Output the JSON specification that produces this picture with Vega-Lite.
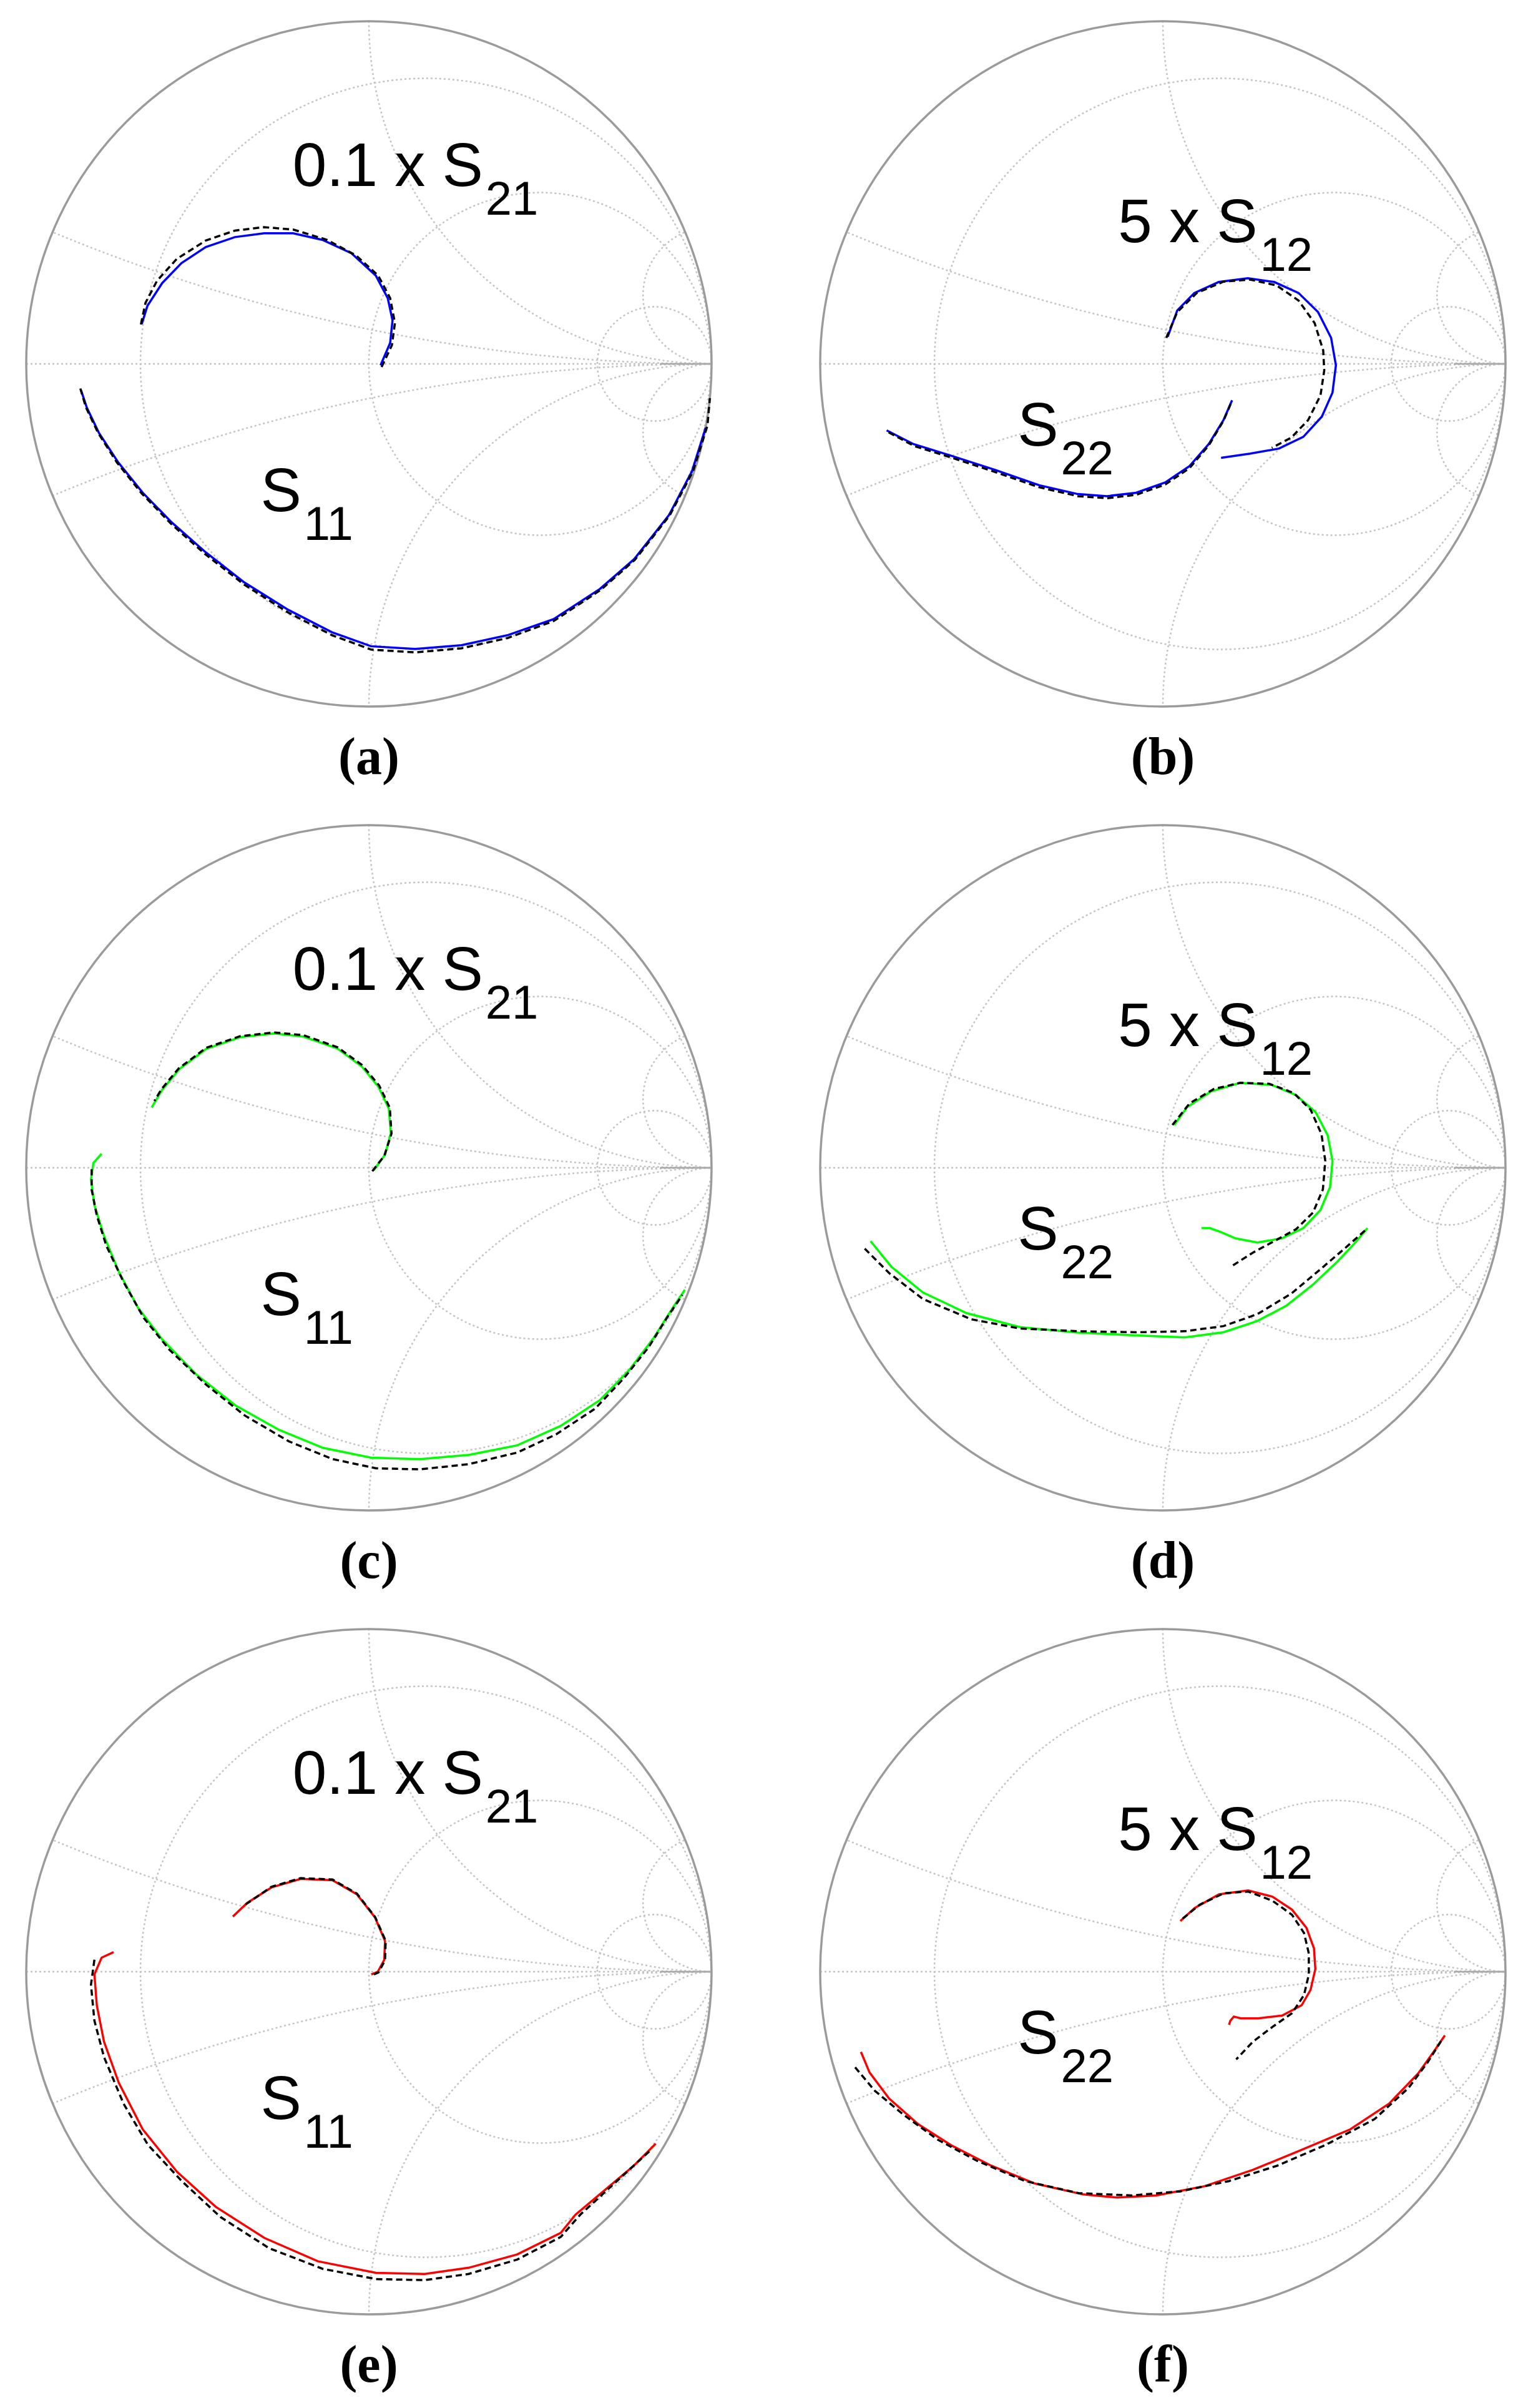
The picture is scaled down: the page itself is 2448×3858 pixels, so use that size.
{
"$schema":"https://vega.github.io/schema/vega-lite/v6.json",
"background":"white",
"padding":{"left":35,"top":27,"right":0,"bottom":0},
"config":{"view":{"stroke":null}},
"datasets":{
"grid":[{"cx":0.16667,"cy":0,"rho":0.83333},{"cx":0.5,"cy":0,"rho":0.5},{"cx":0.83333,"cy":0,"rho":0.16667},{"cx":1,"cy":5,"rho":5},{"cx":1,"cy":-5,"rho":5},{"cx":1,"cy":1,"rho":1},{"cx":1,"cy":-1,"rho":1},{"cx":1,"cy":0.2,"rho":0.2},{"cx":1,"cy":-0.2,"rho":0.2}],
"outer":[{"cx":0,"cy":0,"rho":1}],
"mask":[{"t0":0,"t1":6.2832,"ri":1,"ro":1.6}],
"labels":[
{"p":"a","main":"0.1 x S","sub":"21","gx":0.333,"gy":0.519},{"p":"a","main":"S","sub":"11","gx":-0.197,"gy":-0.43},
{"p":"c","main":"0.1 x S","sub":"21","gx":0.333,"gy":0.519},{"p":"c","main":"S","sub":"11","gx":-0.197,"gy":-0.43},
{"p":"e","main":"0.1 x S","sub":"21","gx":0.333,"gy":0.519},{"p":"e","main":"S","sub":"11","gx":-0.197,"gy":-0.43},
{"p":"b","main":"5 x S","sub":"12","gx":0.276,"gy":0.355},{"p":"b","main":"S","sub":"22","gx":-0.305,"gy":-0.239},
{"p":"d","main":"5 x S","sub":"12","gx":0.276,"gy":0.355},{"p":"d","main":"S","sub":"22","gx":-0.305,"gy":-0.239},
{"p":"f","main":"5 x S","sub":"12","gx":0.276,"gy":0.355},{"p":"f","main":"S","sub":"22","gx":-0.305,"gy":-0.239}],
"curves":[
{"p":"a","s":"21","k":"m","i":1,"gx":0.034,"gy":-0.004},{"p":"a","s":"21","k":"m","i":2,"gx":0.062,"gy":0.061},{"p":"a","s":"21","k":"m","i":3,"gx":0.069,"gy":0.127},{"p":"a","s":"21","k":"m","i":4,"gx":0.055,"gy":0.192},{"p":"a","s":"21","k":"m","i":5,"gx":0.020,"gy":0.258},{"p":"a","s":"21","k":"m","i":6,"gx":-0.051,"gy":0.323},{"p":"a","s":"21","k":"m","i":7,"gx":-0.136,"gy":0.362},{"p":"a","s":"21","k":"m","i":8,"gx":-0.221,"gy":0.381},{"p":"a","s":"21","k":"m","i":9,"gx":-0.306,"gy":0.381},{"p":"a","s":"21","k":"m","i":10,"gx":-0.391,"gy":0.370},{"p":"a","s":"21","k":"m","i":11,"gx":-0.476,"gy":0.341},{"p":"a","s":"21","k":"m","i":12,"gx":-0.547,"gy":0.294},{"p":"a","s":"21","k":"m","i":13,"gx":-0.603,"gy":0.236},{"p":"a","s":"21","k":"m","i":14,"gx":-0.646,"gy":0.170},{"p":"a","s":"21","k":"m","i":15,"gx":-0.663,"gy":0.116},
{"p":"a","s":"21","k":"s","i":1,"gx":0.037,"gy":-0.009},{"p":"a","s":"21","k":"s","i":2,"gx":0.067,"gy":0.054},{"p":"a","s":"21","k":"s","i":3,"gx":0.076,"gy":0.119},{"p":"a","s":"21","k":"s","i":4,"gx":0.062,"gy":0.192},{"p":"a","s":"21","k":"s","i":5,"gx":0.027,"gy":0.258},{"p":"a","s":"21","k":"s","i":6,"gx":-0.037,"gy":0.316},{"p":"a","s":"21","k":"s","i":7,"gx":-0.122,"gy":0.362},{"p":"a","s":"21","k":"s","i":8,"gx":-0.221,"gy":0.392},{"p":"a","s":"21","k":"s","i":9,"gx":-0.306,"gy":0.399},{"p":"a","s":"21","k":"s","i":10,"gx":-0.391,"gy":0.389},{"p":"a","s":"21","k":"s","i":11,"gx":-0.476,"gy":0.360},{"p":"a","s":"21","k":"s","i":12,"gx":-0.561,"gy":0.306},{"p":"a","s":"21","k":"s","i":13,"gx":-0.618,"gy":0.243},{"p":"a","s":"21","k":"s","i":14,"gx":-0.652,"gy":0.178},{"p":"a","s":"21","k":"s","i":15,"gx":-0.666,"gy":0.112},
{"p":"a","s":"11","k":"m","i":1,"gx":-0.840,"gy":-0.077},{"p":"a","s":"11","k":"m","i":2,"gx":-0.823,"gy":-0.128},{"p":"a","s":"11","k":"m","i":3,"gx":-0.788,"gy":-0.201},{"p":"a","s":"11","k":"m","i":4,"gx":-0.731,"gy":-0.288},{"p":"a","s":"11","k":"m","i":5,"gx":-0.660,"gy":-0.376},{"p":"a","s":"11","k":"m","i":6,"gx":-0.575,"gy":-0.463},{"p":"a","s":"11","k":"m","i":7,"gx":-0.476,"gy":-0.550},{"p":"a","s":"11","k":"m","i":8,"gx":-0.363,"gy":-0.638},{"p":"a","s":"11","k":"m","i":9,"gx":-0.235,"gy":-0.718},{"p":"a","s":"11","k":"m","i":10,"gx":-0.108,"gy":-0.783},{"p":"a","s":"11","k":"m","i":11,"gx":0.006,"gy":-0.824},{"p":"a","s":"11","k":"m","i":12,"gx":0.135,"gy":-0.832},{"p":"a","s":"11","k":"m","i":13,"gx":0.270,"gy":-0.821},{"p":"a","s":"11","k":"m","i":14,"gx":0.404,"gy":-0.792},{"p":"a","s":"11","k":"m","i":15,"gx":0.539,"gy":-0.745},{"p":"a","s":"11","k":"m","i":16,"gx":0.674,"gy":-0.657},{"p":"a","s":"11","k":"m","i":17,"gx":0.774,"gy":-0.570},{"p":"a","s":"11","k":"m","i":18,"gx":0.876,"gy":-0.441},{"p":"a","s":"11","k":"m","i":19,"gx":0.943,"gy":-0.313},{"p":"a","s":"11","k":"m","i":20,"gx":0.983,"gy":-0.186},
{"p":"a","s":"11","k":"s","i":1,"gx":-0.842,"gy":-0.072},{"p":"a","s":"11","k":"s","i":2,"gx":-0.826,"gy":-0.126},{"p":"a","s":"11","k":"s","i":3,"gx":-0.791,"gy":-0.200},{"p":"a","s":"11","k":"s","i":4,"gx":-0.735,"gy":-0.288},{"p":"a","s":"11","k":"s","i":5,"gx":-0.663,"gy":-0.378},{"p":"a","s":"11","k":"s","i":6,"gx":-0.578,"gy":-0.466},{"p":"a","s":"11","k":"s","i":7,"gx":-0.478,"gy":-0.555},{"p":"a","s":"11","k":"s","i":8,"gx":-0.364,"gy":-0.644},{"p":"a","s":"11","k":"s","i":9,"gx":-0.235,"gy":-0.726},{"p":"a","s":"11","k":"s","i":10,"gx":-0.107,"gy":-0.792},{"p":"a","s":"11","k":"s","i":11,"gx":0.007,"gy":-0.834},{"p":"a","s":"11","k":"s","i":12,"gx":0.135,"gy":-0.842},{"p":"a","s":"11","k":"s","i":13,"gx":0.270,"gy":-0.830},{"p":"a","s":"11","k":"s","i":14,"gx":0.405,"gy":-0.800},{"p":"a","s":"11","k":"s","i":15,"gx":0.540,"gy":-0.750},{"p":"a","s":"11","k":"s","i":16,"gx":0.676,"gy":-0.660},{"p":"a","s":"11","k":"s","i":17,"gx":0.776,"gy":-0.572},{"p":"a","s":"11","k":"s","i":18,"gx":0.878,"gy":-0.442},{"p":"a","s":"11","k":"s","i":19,"gx":0.946,"gy":-0.313},{"p":"a","s":"11","k":"s","i":20,"gx":0.988,"gy":-0.180},{"p":"a","s":"11","k":"s","i":21,"gx":0.995,"gy":-0.100},

{"p":"b","s":"12","k":"m","i":1,"gx":0.014,"gy":0.079},{"p":"b","s":"12","k":"m","i":2,"gx":0.042,"gy":0.156},{"p":"b","s":"12","k":"m","i":3,"gx":0.092,"gy":0.207},{"p":"b","s":"12","k":"m","i":4,"gx":0.163,"gy":0.239},{"p":"b","s":"12","k":"m","i":5,"gx":0.248,"gy":0.250},{"p":"b","s":"12","k":"m","i":6,"gx":0.325,"gy":0.239},{"p":"b","s":"12","k":"m","i":7,"gx":0.396,"gy":0.207},{"p":"b","s":"12","k":"m","i":8,"gx":0.453,"gy":0.151},{"p":"b","s":"12","k":"m","i":9,"gx":0.491,"gy":0.076},{"p":"b","s":"12","k":"m","i":10,"gx":0.505,"gy":-0.004},{"p":"b","s":"12","k":"m","i":11,"gx":0.495,"gy":-0.084},{"p":"b","s":"12","k":"m","i":12,"gx":0.464,"gy":-0.154},{"p":"b","s":"12","k":"m","i":13,"gx":0.410,"gy":-0.213},{"p":"b","s":"12","k":"m","i":14,"gx":0.339,"gy":-0.247},{"p":"b","s":"12","k":"m","i":15,"gx":0.255,"gy":-0.262},{"p":"b","s":"12","k":"m","i":16,"gx":0.170,"gy":-0.274},
{"p":"b","s":"12","k":"s","i":1,"gx":0.010,"gy":0.076},{"p":"b","s":"12","k":"s","i":2,"gx":0.042,"gy":0.151},{"p":"b","s":"12","k":"s","i":3,"gx":0.099,"gy":0.207},{"p":"b","s":"12","k":"s","i":4,"gx":0.177,"gy":0.240},{"p":"b","s":"12","k":"s","i":5,"gx":0.255,"gy":0.246},{"p":"b","s":"12","k":"s","i":6,"gx":0.332,"gy":0.229},{"p":"b","s":"12","k":"s","i":7,"gx":0.396,"gy":0.185},{"p":"b","s":"12","k":"s","i":8,"gx":0.443,"gy":0.119},{"p":"b","s":"12","k":"s","i":9,"gx":0.468,"gy":0.039},{"p":"b","s":"12","k":"s","i":10,"gx":0.471,"gy":-0.019},{"p":"b","s":"12","k":"s","i":11,"gx":0.460,"gy":-0.092},{"p":"b","s":"12","k":"s","i":12,"gx":0.424,"gy":-0.164},{"p":"b","s":"12","k":"s","i":13,"gx":0.375,"gy":-0.215},{"p":"b","s":"12","k":"s","i":14,"gx":0.318,"gy":-0.245},
{"p":"b","s":"22","k":"m","i":1,"gx":-0.806,"gy":-0.194},{"p":"b","s":"22","k":"m","i":2,"gx":-0.728,"gy":-0.234},{"p":"b","s":"22","k":"m","i":3,"gx":-0.615,"gy":-0.269},{"p":"b","s":"22","k":"m","i":4,"gx":-0.488,"gy":-0.310},{"p":"b","s":"22","k":"m","i":5,"gx":-0.361,"gy":-0.354},{"p":"b","s":"22","k":"m","i":6,"gx":-0.248,"gy":-0.380},{"p":"b","s":"22","k":"m","i":7,"gx":-0.163,"gy":-0.386},{"p":"b","s":"22","k":"m","i":8,"gx":-0.078,"gy":-0.376},{"p":"b","s":"22","k":"m","i":9,"gx":0.007,"gy":-0.346},{"p":"b","s":"22","k":"m","i":10,"gx":0.078,"gy":-0.298},{"p":"b","s":"22","k":"m","i":11,"gx":0.134,"gy":-0.234},{"p":"b","s":"22","k":"m","i":12,"gx":0.177,"gy":-0.164},{"p":"b","s":"22","k":"m","i":13,"gx":0.202,"gy":-0.106},
{"p":"b","s":"22","k":"s","i":1,"gx":-0.800,"gy":-0.200},{"p":"b","s":"22","k":"s","i":2,"gx":-0.725,"gy":-0.240},{"p":"b","s":"22","k":"s","i":3,"gx":-0.615,"gy":-0.274},{"p":"b","s":"22","k":"s","i":4,"gx":-0.488,"gy":-0.316},{"p":"b","s":"22","k":"s","i":5,"gx":-0.361,"gy":-0.360},{"p":"b","s":"22","k":"s","i":6,"gx":-0.248,"gy":-0.386},{"p":"b","s":"22","k":"s","i":7,"gx":-0.163,"gy":-0.392},{"p":"b","s":"22","k":"s","i":8,"gx":-0.078,"gy":-0.382},{"p":"b","s":"22","k":"s","i":9,"gx":0.007,"gy":-0.352},{"p":"b","s":"22","k":"s","i":10,"gx":0.078,"gy":-0.304},{"p":"b","s":"22","k":"s","i":11,"gx":0.134,"gy":-0.238},{"p":"b","s":"22","k":"s","i":12,"gx":0.177,"gy":-0.166},{"p":"b","s":"22","k":"s","i":13,"gx":0.200,"gy":-0.112},

{"p":"c","s":"21","k":"m","i":1,"gx":0.014,"gy":-0.007},{"p":"c","s":"21","k":"m","i":2,"gx":0.047,"gy":0.038},{"p":"c","s":"21","k":"m","i":3,"gx":0.064,"gy":0.101},{"p":"c","s":"21","k":"m","i":4,"gx":0.058,"gy":0.173},{"p":"c","s":"21","k":"m","i":5,"gx":0.028,"gy":0.236},{"p":"c","s":"21","k":"m","i":6,"gx":-0.021,"gy":0.296},{"p":"c","s":"21","k":"m","i":7,"gx":-0.092,"gy":0.348},{"p":"c","s":"21","k":"m","i":8,"gx":-0.191,"gy":0.383},{"p":"c","s":"21","k":"m","i":9,"gx":-0.277,"gy":0.392},{"p":"c","s":"21","k":"m","i":10,"gx":-0.376,"gy":0.381},{"p":"c","s":"21","k":"m","i":11,"gx":-0.475,"gy":0.347},{"p":"c","s":"21","k":"m","i":12,"gx":-0.553,"gy":0.288},{"p":"c","s":"21","k":"m","i":13,"gx":-0.603,"gy":0.228},{"p":"c","s":"21","k":"m","i":14,"gx":-0.634,"gy":0.176},
{"p":"c","s":"21","k":"s","i":1,"gx":0.010,"gy":-0.010},{"p":"c","s":"21","k":"s","i":2,"gx":0.045,"gy":0.035},{"p":"c","s":"21","k":"s","i":3,"gx":0.066,"gy":0.100},{"p":"c","s":"21","k":"s","i":4,"gx":0.061,"gy":0.175},{"p":"c","s":"21","k":"s","i":5,"gx":0.030,"gy":0.240},{"p":"c","s":"21","k":"s","i":6,"gx":-0.020,"gy":0.300},{"p":"c","s":"21","k":"s","i":7,"gx":-0.092,"gy":0.352},{"p":"c","s":"21","k":"s","i":8,"gx":-0.191,"gy":0.387},{"p":"c","s":"21","k":"s","i":9,"gx":-0.277,"gy":0.395},{"p":"c","s":"21","k":"s","i":10,"gx":-0.376,"gy":0.384},{"p":"c","s":"21","k":"s","i":11,"gx":-0.475,"gy":0.350},{"p":"c","s":"21","k":"s","i":12,"gx":-0.555,"gy":0.290},{"p":"c","s":"21","k":"s","i":13,"gx":-0.605,"gy":0.230},{"p":"c","s":"21","k":"s","i":14,"gx":-0.626,"gy":0.195},
{"p":"c","s":"11","k":"m","i":1,"gx":-0.780,"gy":0.041},{"p":"c","s":"11","k":"m","i":2,"gx":-0.804,"gy":0.014},{"p":"c","s":"11","k":"m","i":3,"gx":-0.811,"gy":-0.034},{"p":"c","s":"11","k":"m","i":4,"gx":-0.801,"gy":-0.109},{"p":"c","s":"11","k":"m","i":5,"gx":-0.773,"gy":-0.199},{"p":"c","s":"11","k":"m","i":6,"gx":-0.730,"gy":-0.303},{"p":"c","s":"11","k":"m","i":7,"gx":-0.674,"gy":-0.408},{"p":"c","s":"11","k":"m","i":8,"gx":-0.603,"gy":-0.501},{"p":"c","s":"11","k":"m","i":9,"gx":-0.504,"gy":-0.603},{"p":"c","s":"11","k":"m","i":10,"gx":-0.390,"gy":-0.693},{"p":"c","s":"11","k":"m","i":11,"gx":-0.262,"gy":-0.765},{"p":"c","s":"11","k":"m","i":12,"gx":-0.135,"gy":-0.817},{"p":"c","s":"11","k":"m","i":13,"gx":0.007,"gy":-0.846},{"p":"c","s":"11","k":"m","i":14,"gx":0.149,"gy":-0.850},{"p":"c","s":"11","k":"m","i":15,"gx":0.291,"gy":-0.838},{"p":"c","s":"11","k":"m","i":16,"gx":0.433,"gy":-0.810},{"p":"c","s":"11","k":"m","i":17,"gx":0.560,"gy":-0.753},{"p":"c","s":"11","k":"m","i":18,"gx":0.674,"gy":-0.678},{"p":"c","s":"11","k":"m","i":19,"gx":0.759,"gy":-0.591},{"p":"c","s":"11","k":"m","i":20,"gx":0.830,"gy":-0.498},{"p":"c","s":"11","k":"m","i":21,"gx":0.887,"gy":-0.408},{"p":"c","s":"11","k":"m","i":22,"gx":0.922,"gy":-0.356},
{"p":"c","s":"11","k":"s","i":1,"gx":-0.809,"gy":-0.004},{"p":"c","s":"11","k":"s","i":2,"gx":-0.809,"gy":-0.064},{"p":"c","s":"11","k":"s","i":3,"gx":-0.794,"gy":-0.139},{"p":"c","s":"11","k":"s","i":4,"gx":-0.766,"gy":-0.228},{"p":"c","s":"11","k":"s","i":5,"gx":-0.716,"gy":-0.333},{"p":"c","s":"11","k":"s","i":6,"gx":-0.657,"gy":-0.438},{"p":"c","s":"11","k":"s","i":7,"gx":-0.582,"gy":-0.531},{"p":"c","s":"11","k":"s","i":8,"gx":-0.475,"gy":-0.633},{"p":"c","s":"11","k":"s","i":9,"gx":-0.362,"gy":-0.723},{"p":"c","s":"11","k":"s","i":10,"gx":-0.234,"gy":-0.798},{"p":"c","s":"11","k":"s","i":11,"gx":-0.106,"gy":-0.850},{"p":"c","s":"11","k":"s","i":12,"gx":0.021,"gy":-0.877},{"p":"c","s":"11","k":"s","i":13,"gx":0.149,"gy":-0.880},{"p":"c","s":"11","k":"s","i":14,"gx":0.291,"gy":-0.865},{"p":"c","s":"11","k":"s","i":15,"gx":0.433,"gy":-0.831},{"p":"c","s":"11","k":"s","i":16,"gx":0.546,"gy":-0.778},{"p":"c","s":"11","k":"s","i":17,"gx":0.660,"gy":-0.703},{"p":"c","s":"11","k":"s","i":18,"gx":0.745,"gy":-0.613},{"p":"c","s":"11","k":"s","i":19,"gx":0.816,"gy":-0.524},{"p":"c","s":"11","k":"s","i":20,"gx":0.872,"gy":-0.434},{"p":"c","s":"11","k":"s","i":21,"gx":0.915,"gy":-0.371},

{"p":"d","s":"12","k":"m","i":1,"gx":0.033,"gy":0.125},{"p":"d","s":"12","k":"m","i":2,"gx":0.071,"gy":0.177},{"p":"d","s":"12","k":"m","i":3,"gx":0.141,"gy":0.223},{"p":"d","s":"12","k":"m","i":4,"gx":0.226,"gy":0.248},{"p":"d","s":"12","k":"m","i":5,"gx":0.318,"gy":0.242},{"p":"d","s":"12","k":"m","i":6,"gx":0.389,"gy":0.212},{"p":"d","s":"12","k":"m","i":7,"gx":0.446,"gy":0.162},{"p":"d","s":"12","k":"m","i":8,"gx":0.481,"gy":0.095},{"p":"d","s":"12","k":"m","i":9,"gx":0.495,"gy":0.020},{"p":"d","s":"12","k":"m","i":10,"gx":0.488,"gy":-0.056},{"p":"d","s":"12","k":"m","i":11,"gx":0.460,"gy":-0.123},{"p":"d","s":"12","k":"m","i":12,"gx":0.410,"gy":-0.176},{"p":"d","s":"12","k":"m","i":13,"gx":0.347,"gy":-0.206},{"p":"d","s":"12","k":"m","i":14,"gx":0.276,"gy":-0.218},{"p":"d","s":"12","k":"m","i":15,"gx":0.212,"gy":-0.206},{"p":"d","s":"12","k":"m","i":16,"gx":0.170,"gy":-0.188},{"p":"d","s":"12","k":"m","i":17,"gx":0.137,"gy":-0.176},{"p":"d","s":"12","k":"m","i":18,"gx":0.113,"gy":-0.176},
{"p":"d","s":"12","k":"s","i":1,"gx":0.028,"gy":0.125},{"p":"d","s":"12","k":"s","i":2,"gx":0.078,"gy":0.188},{"p":"d","s":"12","k":"s","i":3,"gx":0.149,"gy":0.230},{"p":"d","s":"12","k":"s","i":4,"gx":0.226,"gy":0.248},{"p":"d","s":"12","k":"s","i":5,"gx":0.311,"gy":0.245},{"p":"d","s":"12","k":"s","i":6,"gx":0.382,"gy":0.218},{"p":"d","s":"12","k":"s","i":7,"gx":0.431,"gy":0.170},{"p":"d","s":"12","k":"s","i":8,"gx":0.463,"gy":0.098},{"p":"d","s":"12","k":"s","i":9,"gx":0.474,"gy":0.020},{"p":"d","s":"12","k":"s","i":10,"gx":0.467,"gy":-0.063},{"p":"d","s":"12","k":"s","i":11,"gx":0.438,"gy":-0.131},{"p":"d","s":"12","k":"s","i":12,"gx":0.389,"gy":-0.179},{"p":"d","s":"12","k":"s","i":13,"gx":0.325,"gy":-0.214},{"p":"d","s":"12","k":"s","i":14,"gx":0.262,"gy":-0.248},{"p":"d","s":"12","k":"s","i":15,"gx":0.198,"gy":-0.289},
{"p":"d","s":"22","k":"m","i":1,"gx":-0.853,"gy":-0.214},{"p":"d","s":"22","k":"m","i":2,"gx":-0.792,"gy":-0.289},{"p":"d","s":"22","k":"m","i":3,"gx":-0.700,"gy":-0.364},{"p":"d","s":"22","k":"m","i":4,"gx":-0.573,"gy":-0.424},{"p":"d","s":"22","k":"m","i":5,"gx":-0.417,"gy":-0.465},{"p":"d","s":"22","k":"m","i":6,"gx":-0.248,"gy":-0.481},{"p":"d","s":"22","k":"m","i":7,"gx":-0.078,"gy":-0.489},{"p":"d","s":"22","k":"m","i":8,"gx":0.064,"gy":-0.495},{"p":"d","s":"22","k":"m","i":9,"gx":0.177,"gy":-0.480},{"p":"d","s":"22","k":"m","i":10,"gx":0.276,"gy":-0.447},{"p":"d","s":"22","k":"m","i":11,"gx":0.361,"gy":-0.402},{"p":"d","s":"22","k":"m","i":12,"gx":0.438,"gy":-0.341},{"p":"d","s":"22","k":"m","i":13,"gx":0.509,"gy":-0.274},{"p":"d","s":"22","k":"m","i":14,"gx":0.559,"gy":-0.221},{"p":"d","s":"22","k":"m","i":15,"gx":0.597,"gy":-0.176},
{"p":"d","s":"22","k":"s","i":1,"gx":-0.870,"gy":-0.236},{"p":"d","s":"22","k":"s","i":2,"gx":-0.799,"gy":-0.307},{"p":"d","s":"22","k":"s","i":3,"gx":-0.700,"gy":-0.383},{"p":"d","s":"22","k":"s","i":4,"gx":-0.559,"gy":-0.442},{"p":"d","s":"22","k":"s","i":5,"gx":-0.417,"gy":-0.469},{"p":"d","s":"22","k":"s","i":6,"gx":-0.248,"gy":-0.477},{"p":"d","s":"22","k":"s","i":7,"gx":-0.078,"gy":-0.480},{"p":"d","s":"22","k":"s","i":8,"gx":0.064,"gy":-0.477},{"p":"d","s":"22","k":"s","i":9,"gx":0.177,"gy":-0.462},{"p":"d","s":"22","k":"s","i":10,"gx":0.276,"gy":-0.427},{"p":"d","s":"22","k":"s","i":11,"gx":0.375,"gy":-0.367},{"p":"d","s":"22","k":"s","i":12,"gx":0.460,"gy":-0.296},{"p":"d","s":"22","k":"s","i":13,"gx":0.530,"gy":-0.236},{"p":"d","s":"22","k":"s","i":14,"gx":0.590,"gy":-0.183},

{"p":"e","s":"21","k":"m","i":1,"gx":-0.397,"gy":0.161},{"p":"e","s":"21","k":"m","i":2,"gx":-0.355,"gy":0.201},{"p":"e","s":"21","k":"m","i":3,"gx":-0.284,"gy":0.246},{"p":"e","s":"21","k":"m","i":4,"gx":-0.199,"gy":0.271},{"p":"e","s":"21","k":"m","i":5,"gx":-0.106,"gy":0.267},{"p":"e","s":"21","k":"m","i":6,"gx":-0.035,"gy":0.226},{"p":"e","s":"21","k":"m","i":7,"gx":0.018,"gy":0.158},{"p":"e","s":"21","k":"m","i":8,"gx":0.047,"gy":0.090},{"p":"e","s":"21","k":"m","i":9,"gx":0.045,"gy":0.035},{"p":"e","s":"21","k":"m","i":10,"gx":0.026,"gy":0.000},{"p":"e","s":"21","k":"m","i":11,"gx":0.007,"gy":-0.008},
{"p":"e","s":"21","k":"s","i":1,"gx":-0.360,"gy":0.196},{"p":"e","s":"21","k":"s","i":2,"gx":-0.284,"gy":0.248},{"p":"e","s":"21","k":"s","i":3,"gx":-0.199,"gy":0.273},{"p":"e","s":"21","k":"s","i":4,"gx":-0.106,"gy":0.269},{"p":"e","s":"21","k":"s","i":5,"gx":-0.035,"gy":0.228},{"p":"e","s":"21","k":"s","i":6,"gx":0.018,"gy":0.160},{"p":"e","s":"21","k":"s","i":7,"gx":0.049,"gy":0.090},{"p":"e","s":"21","k":"s","i":8,"gx":0.047,"gy":0.033},{"p":"e","s":"21","k":"s","i":9,"gx":0.028,"gy":-0.002},{"p":"e","s":"21","k":"s","i":10,"gx":0.010,"gy":-0.010},
{"p":"e","s":"11","k":"m","i":1,"gx":-0.745,"gy":0.057},{"p":"e","s":"11","k":"m","i":2,"gx":-0.780,"gy":0.041},{"p":"e","s":"11","k":"m","i":3,"gx":-0.801,"gy":-0.008},{"p":"e","s":"11","k":"m","i":4,"gx":-0.794,"gy":-0.098},{"p":"e","s":"11","k":"m","i":5,"gx":-0.773,"gy":-0.204},{"p":"e","s":"11","k":"m","i":6,"gx":-0.730,"gy":-0.324},{"p":"e","s":"11","k":"m","i":7,"gx":-0.660,"gy":-0.460},{"p":"e","s":"11","k":"m","i":8,"gx":-0.560,"gy":-0.584},{"p":"e","s":"11","k":"m","i":9,"gx":-0.447,"gy":-0.686},{"p":"e","s":"11","k":"m","i":10,"gx":-0.305,"gy":-0.777},{"p":"e","s":"11","k":"m","i":11,"gx":-0.149,"gy":-0.845},{"p":"e","s":"11","k":"m","i":12,"gx":0.021,"gy":-0.879},{"p":"e","s":"11","k":"m","i":13,"gx":0.163,"gy":-0.882},{"p":"e","s":"11","k":"m","i":14,"gx":0.291,"gy":-0.864},{"p":"e","s":"11","k":"m","i":15,"gx":0.433,"gy":-0.825},{"p":"e","s":"11","k":"m","i":16,"gx":0.560,"gy":-0.762},{"p":"e","s":"11","k":"m","i":17,"gx":0.603,"gy":-0.709},{"p":"e","s":"11","k":"m","i":18,"gx":0.702,"gy":-0.626},{"p":"e","s":"11","k":"m","i":19,"gx":0.773,"gy":-0.566},{"p":"e","s":"11","k":"m","i":20,"gx":0.837,"gy":-0.502},
{"p":"e","s":"11","k":"s","i":1,"gx":-0.801,"gy":0.035},{"p":"e","s":"11","k":"s","i":2,"gx":-0.811,"gy":-0.038},{"p":"e","s":"11","k":"s","i":3,"gx":-0.801,"gy":-0.143},{"p":"e","s":"11","k":"s","i":4,"gx":-0.773,"gy":-0.249},{"p":"e","s":"11","k":"s","i":5,"gx":-0.716,"gy":-0.385},{"p":"e","s":"11","k":"s","i":6,"gx":-0.645,"gy":-0.505},{"p":"e","s":"11","k":"s","i":7,"gx":-0.546,"gy":-0.611},{"p":"e","s":"11","k":"s","i":8,"gx":-0.433,"gy":-0.716},{"p":"e","s":"11","k":"s","i":9,"gx":-0.291,"gy":-0.807},{"p":"e","s":"11","k":"s","i":10,"gx":-0.135,"gy":-0.867},{"p":"e","s":"11","k":"s","i":11,"gx":0.021,"gy":-0.897},{"p":"e","s":"11","k":"s","i":12,"gx":0.163,"gy":-0.900},{"p":"e","s":"11","k":"s","i":13,"gx":0.291,"gy":-0.882},{"p":"e","s":"11","k":"s","i":14,"gx":0.433,"gy":-0.840},{"p":"e","s":"11","k":"s","i":15,"gx":0.560,"gy":-0.774},{"p":"e","s":"11","k":"s","i":16,"gx":0.617,"gy":-0.709},{"p":"e","s":"11","k":"s","i":17,"gx":0.716,"gy":-0.618},{"p":"e","s":"11","k":"s","i":18,"gx":0.823,"gy":-0.520},

{"p":"f","s":"12","k":"m","i":1,"gx":0.051,"gy":0.148},{"p":"f","s":"12","k":"m","i":2,"gx":0.093,"gy":0.186},{"p":"f","s":"12","k":"m","i":3,"gx":0.164,"gy":0.226},{"p":"f","s":"12","k":"m","i":4,"gx":0.249,"gy":0.237},{"p":"f","s":"12","k":"m","i":5,"gx":0.320,"gy":0.219},{"p":"f","s":"12","k":"m","i":6,"gx":0.377,"gy":0.181},{"p":"f","s":"12","k":"m","i":7,"gx":0.419,"gy":0.128},{"p":"f","s":"12","k":"m","i":8,"gx":0.441,"gy":0.068},{"p":"f","s":"12","k":"m","i":9,"gx":0.445,"gy":0.008},{"p":"f","s":"12","k":"m","i":10,"gx":0.431,"gy":-0.053},{"p":"f","s":"12","k":"m","i":11,"gx":0.405,"gy":-0.098},{"p":"f","s":"12","k":"m","i":12,"gx":0.348,"gy":-0.128},{"p":"f","s":"12","k":"m","i":13,"gx":0.278,"gy":-0.136},{"p":"f","s":"12","k":"m","i":14,"gx":0.228,"gy":-0.136},{"p":"f","s":"12","k":"m","i":15,"gx":0.207,"gy":-0.131},{"p":"f","s":"12","k":"m","i":16,"gx":0.197,"gy":-0.143},{"p":"f","s":"12","k":"m","i":17,"gx":0.193,"gy":-0.155},
{"p":"f","s":"12","k":"s","i":1,"gx":0.058,"gy":0.155},{"p":"f","s":"12","k":"s","i":2,"gx":0.108,"gy":0.196},{"p":"f","s":"12","k":"s","i":3,"gx":0.178,"gy":0.229},{"p":"f","s":"12","k":"s","i":4,"gx":0.249,"gy":0.234},{"p":"f","s":"12","k":"s","i":5,"gx":0.320,"gy":0.207},{"p":"f","s":"12","k":"s","i":6,"gx":0.377,"gy":0.166},{"p":"f","s":"12","k":"s","i":7,"gx":0.412,"gy":0.113},{"p":"f","s":"12","k":"s","i":8,"gx":0.426,"gy":0.053},{"p":"f","s":"12","k":"s","i":9,"gx":0.426,"gy":-0.008},{"p":"f","s":"12","k":"s","i":10,"gx":0.412,"gy":-0.068},{"p":"f","s":"12","k":"s","i":11,"gx":0.377,"gy":-0.121},{"p":"f","s":"12","k":"s","i":12,"gx":0.320,"gy":-0.161},{"p":"f","s":"12","k":"s","i":13,"gx":0.263,"gy":-0.204},{"p":"f","s":"12","k":"s","i":14,"gx":0.214,"gy":-0.256},
{"p":"f","s":"22","k":"m","i":1,"gx":-0.881,"gy":-0.234},{"p":"f","s":"22","k":"m","i":2,"gx":-0.856,"gy":-0.294},{"p":"f","s":"22","k":"m","i":3,"gx":-0.799,"gy":-0.370},{"p":"f","s":"22","k":"m","i":4,"gx":-0.714,"gy":-0.445},{"p":"f","s":"22","k":"m","i":5,"gx":-0.615,"gy":-0.508},{"p":"f","s":"22","k":"m","i":6,"gx":-0.501,"gy":-0.566},{"p":"f","s":"22","k":"m","i":7,"gx":-0.374,"gy":-0.618},{"p":"f","s":"22","k":"m","i":8,"gx":-0.232,"gy":-0.650},{"p":"f","s":"22","k":"m","i":9,"gx":-0.133,"gy":-0.659},{"p":"f","s":"22","k":"m","i":10,"gx":-0.020,"gy":-0.653},{"p":"f","s":"22","k":"m","i":11,"gx":0.122,"gy":-0.626},{"p":"f","s":"22","k":"m","i":12,"gx":0.263,"gy":-0.578},{"p":"f","s":"22","k":"m","i":13,"gx":0.405,"gy":-0.520},{"p":"f","s":"22","k":"m","i":14,"gx":0.547,"gy":-0.460},{"p":"f","s":"22","k":"m","i":15,"gx":0.660,"gy":-0.385},{"p":"f","s":"22","k":"m","i":16,"gx":0.745,"gy":-0.297},{"p":"f","s":"22","k":"m","i":17,"gx":0.790,"gy":-0.234},{"p":"f","s":"22","k":"m","i":18,"gx":0.823,"gy":-0.186},
{"p":"f","s":"22","k":"s","i":1,"gx":-0.898,"gy":-0.279},{"p":"f","s":"22","k":"s","i":2,"gx":-0.841,"gy":-0.347},{"p":"f","s":"22","k":"s","i":3,"gx":-0.756,"gy":-0.418},{"p":"f","s":"22","k":"s","i":4,"gx":-0.657,"gy":-0.490},{"p":"f","s":"22","k":"s","i":5,"gx":-0.544,"gy":-0.551},{"p":"f","s":"22","k":"s","i":6,"gx":-0.402,"gy":-0.611},{"p":"f","s":"22","k":"s","i":7,"gx":-0.246,"gy":-0.646},{"p":"f","s":"22","k":"s","i":8,"gx":-0.091,"gy":-0.653},{"p":"f","s":"22","k":"s","i":9,"gx":0.051,"gy":-0.641},{"p":"f","s":"22","k":"s","i":10,"gx":0.193,"gy":-0.611},{"p":"f","s":"22","k":"s","i":11,"gx":0.334,"gy":-0.566},{"p":"f","s":"22","k":"s","i":12,"gx":0.476,"gy":-0.505},{"p":"f","s":"22","k":"s","i":13,"gx":0.618,"gy":-0.430},{"p":"f","s":"22","k":"s","i":14,"gx":0.717,"gy":-0.339},{"p":"f","s":"22","k":"s","i":15,"gx":0.773,"gy":-0.264},{"p":"f","s":"22","k":"s","i":16,"gx":0.816,"gy":-0.196}
]},
"columns":2,
"spacing":{"row":58,"column":160},
"concat":[
{"width":1098,"height":1098,"title":{"text":"(a)","orient":"bottom","anchor":"middle","font":"Liberation Serif","fontSize":84,"fontWeight":"bold","color":"#000000","offset":35,"baseline":"top"},
"layer":[
{"data":{"name":"grid"},"mark":{"type":"point","shape":"circle","filled":false,"clip":true,"opacity":1,"stroke":"#c4c4c4","strokeWidth":2.5,"strokeDash":[3,4]},"encoding":{"x":{"field":"cx","type":"quantitative","scale":{"domain":[-1,1],"nice":false,"zero":false},"axis":null},"y":{"field":"cy","type":"quantitative","scale":{"domain":[-1,1],"nice":false,"zero":false},"axis":null},"size":{"field":"rho","type":"quantitative","scale":{"type":"pow","exponent":2,"domain":[0,1],"range":[0,1205604]},"legend":null}}},
{"data":{"values":[{}]},"mark":{"type":"rule","stroke":"#c4c4c4","strokeWidth":2.5,"strokeDash":[3,4]},"encoding":{"x":{"datum":-1,"type":"quantitative","scale":{"domain":[-1,1],"nice":false,"zero":false},"axis":null},"x2":{"datum":1},"y":{"datum":0,"type":"quantitative","scale":{"domain":[-1,1],"nice":false,"zero":false},"axis":null}}},
{"data":{"values":[{}]},"mark":{"type":"rule","stroke":"#a8a8a8","strokeWidth":2.5},"encoding":{"x":{"datum":0.85,"type":"quantitative","scale":{"domain":[-1,1],"nice":false,"zero":false},"axis":null},"x2":{"datum":1},"y":{"datum":0,"type":"quantitative","scale":{"domain":[-1,1],"nice":false,"zero":false},"axis":null}}},
{"data":{"name":"mask"},"mark":{"type":"arc","fill":"white","clip":true},"encoding":{"x":{"datum":0,"type":"quantitative","scale":{"domain":[-1,1],"nice":false,"zero":false},"axis":null},"y":{"datum":0,"type":"quantitative","scale":{"domain":[-1,1],"nice":false,"zero":false},"axis":null},"theta":{"field":"t0","type":"quantitative","scale":null,"stack":null},"theta2":{"field":"t1"},"radius":{"field":"ro","type":"quantitative","scale":{"type":"linear","domain":[0,1],"range":[0,549],"zero":true}},"radius2":{"field":"ri"}}},
{"data":{"name":"outer"},"mark":{"type":"point","shape":"circle","filled":false,"opacity":1,"stroke":"#9b9b9b","strokeWidth":3.5},"encoding":{"x":{"field":"cx","type":"quantitative","scale":{"domain":[-1,1],"nice":false,"zero":false},"axis":null},"y":{"field":"cy","type":"quantitative","scale":{"domain":[-1,1],"nice":false,"zero":false},"axis":null},"size":{"field":"rho","type":"quantitative","scale":{"type":"pow","exponent":2,"domain":[0,1],"range":[0,1205604]},"legend":null}}},
{"data":{"name":"curves"},"transform":[{"filter":"datum.p === 'a' && datum.k === 'm'"}],"mark":{"type":"line","stroke":"#0000ff","strokeWidth":3.5},"encoding":{"x":{"field":"gx","type":"quantitative","scale":{"domain":[-1,1],"nice":false,"zero":false},"axis":null},"y":{"field":"gy","type":"quantitative","scale":{"domain":[-1,1],"nice":false,"zero":false},"axis":null},"detail":{"field":"s"},"order":{"field":"i"}}},
{"data":{"name":"curves"},"transform":[{"filter":"datum.p === 'a' && datum.k === 's'"}],"mark":{"type":"line","stroke":"#000000","strokeWidth":3.5,"strokeDash":[10,6]},"encoding":{"x":{"field":"gx","type":"quantitative","scale":{"domain":[-1,1],"nice":false,"zero":false},"axis":null},"y":{"field":"gy","type":"quantitative","scale":{"domain":[-1,1],"nice":false,"zero":false},"axis":null},"detail":{"field":"s"},"order":{"field":"i"}}},
{"data":{"name":"labels"},"transform":[{"filter":"datum.p === 'a'"}],"mark":{"type":"text","align":"right","baseline":"alphabetic","font":"Liberation Sans","fontSize":98,"color":"#000000"},"encoding":{"x":{"field":"gx","type":"quantitative","scale":{"domain":[-1,1],"nice":false,"zero":false},"axis":null},"y":{"field":"gy","type":"quantitative","scale":{"domain":[-1,1],"nice":false,"zero":false},"axis":null},"text":{"field":"main"}}},
{"data":{"name":"labels"},"transform":[{"filter":"datum.p === 'a'"}],"mark":{"type":"text","align":"left","baseline":"alphabetic","font":"Liberation Sans","fontSize":76,"dx":4,"dy":46,"color":"#000000"},"encoding":{"x":{"field":"gx","type":"quantitative","scale":{"domain":[-1,1],"nice":false,"zero":false},"axis":null},"y":{"field":"gy","type":"quantitative","scale":{"domain":[-1,1],"nice":false,"zero":false},"axis":null},"text":{"field":"sub"}}}
]},
{"width":1098,"height":1098,"title":{"text":"(b)","orient":"bottom","anchor":"middle","font":"Liberation Serif","fontSize":84,"fontWeight":"bold","color":"#000000","offset":35,"baseline":"top"},
"layer":[
{"data":{"name":"grid"},"mark":{"type":"point","shape":"circle","filled":false,"clip":true,"opacity":1,"stroke":"#c4c4c4","strokeWidth":2.5,"strokeDash":[3,4]},"encoding":{"x":{"field":"cx","type":"quantitative","scale":{"domain":[-1,1],"nice":false,"zero":false},"axis":null},"y":{"field":"cy","type":"quantitative","scale":{"domain":[-1,1],"nice":false,"zero":false},"axis":null},"size":{"field":"rho","type":"quantitative","scale":{"type":"pow","exponent":2,"domain":[0,1],"range":[0,1205604]},"legend":null}}},
{"data":{"values":[{}]},"mark":{"type":"rule","stroke":"#c4c4c4","strokeWidth":2.5,"strokeDash":[3,4]},"encoding":{"x":{"datum":-1,"type":"quantitative","scale":{"domain":[-1,1],"nice":false,"zero":false},"axis":null},"x2":{"datum":1},"y":{"datum":0,"type":"quantitative","scale":{"domain":[-1,1],"nice":false,"zero":false},"axis":null}}},
{"data":{"values":[{}]},"mark":{"type":"rule","stroke":"#a8a8a8","strokeWidth":2.5},"encoding":{"x":{"datum":0.85,"type":"quantitative","scale":{"domain":[-1,1],"nice":false,"zero":false},"axis":null},"x2":{"datum":1},"y":{"datum":0,"type":"quantitative","scale":{"domain":[-1,1],"nice":false,"zero":false},"axis":null}}},
{"data":{"name":"mask"},"mark":{"type":"arc","fill":"white","clip":true},"encoding":{"x":{"datum":0,"type":"quantitative","scale":{"domain":[-1,1],"nice":false,"zero":false},"axis":null},"y":{"datum":0,"type":"quantitative","scale":{"domain":[-1,1],"nice":false,"zero":false},"axis":null},"theta":{"field":"t0","type":"quantitative","scale":null,"stack":null},"theta2":{"field":"t1"},"radius":{"field":"ro","type":"quantitative","scale":{"type":"linear","domain":[0,1],"range":[0,549],"zero":true}},"radius2":{"field":"ri"}}},
{"data":{"name":"outer"},"mark":{"type":"point","shape":"circle","filled":false,"opacity":1,"stroke":"#9b9b9b","strokeWidth":3.5},"encoding":{"x":{"field":"cx","type":"quantitative","scale":{"domain":[-1,1],"nice":false,"zero":false},"axis":null},"y":{"field":"cy","type":"quantitative","scale":{"domain":[-1,1],"nice":false,"zero":false},"axis":null},"size":{"field":"rho","type":"quantitative","scale":{"type":"pow","exponent":2,"domain":[0,1],"range":[0,1205604]},"legend":null}}},
{"data":{"name":"curves"},"transform":[{"filter":"datum.p === 'b' && datum.k === 'm'"}],"mark":{"type":"line","stroke":"#0000ff","strokeWidth":3.5},"encoding":{"x":{"field":"gx","type":"quantitative","scale":{"domain":[-1,1],"nice":false,"zero":false},"axis":null},"y":{"field":"gy","type":"quantitative","scale":{"domain":[-1,1],"nice":false,"zero":false},"axis":null},"detail":{"field":"s"},"order":{"field":"i"}}},
{"data":{"name":"curves"},"transform":[{"filter":"datum.p === 'b' && datum.k === 's'"}],"mark":{"type":"line","stroke":"#000000","strokeWidth":3.5,"strokeDash":[10,6]},"encoding":{"x":{"field":"gx","type":"quantitative","scale":{"domain":[-1,1],"nice":false,"zero":false},"axis":null},"y":{"field":"gy","type":"quantitative","scale":{"domain":[-1,1],"nice":false,"zero":false},"axis":null},"detail":{"field":"s"},"order":{"field":"i"}}},
{"data":{"name":"labels"},"transform":[{"filter":"datum.p === 'b'"}],"mark":{"type":"text","align":"right","baseline":"alphabetic","font":"Liberation Sans","fontSize":98,"color":"#000000"},"encoding":{"x":{"field":"gx","type":"quantitative","scale":{"domain":[-1,1],"nice":false,"zero":false},"axis":null},"y":{"field":"gy","type":"quantitative","scale":{"domain":[-1,1],"nice":false,"zero":false},"axis":null},"text":{"field":"main"}}},
{"data":{"name":"labels"},"transform":[{"filter":"datum.p === 'b'"}],"mark":{"type":"text","align":"left","baseline":"alphabetic","font":"Liberation Sans","fontSize":76,"dx":4,"dy":46,"color":"#000000"},"encoding":{"x":{"field":"gx","type":"quantitative","scale":{"domain":[-1,1],"nice":false,"zero":false},"axis":null},"y":{"field":"gy","type":"quantitative","scale":{"domain":[-1,1],"nice":false,"zero":false},"axis":null},"text":{"field":"sub"}}}
]},
{"width":1098,"height":1098,"title":{"text":"(c)","orient":"bottom","anchor":"middle","font":"Liberation Serif","fontSize":84,"fontWeight":"bold","color":"#000000","offset":35,"baseline":"top"},
"layer":[
{"data":{"name":"grid"},"mark":{"type":"point","shape":"circle","filled":false,"clip":true,"opacity":1,"stroke":"#c4c4c4","strokeWidth":2.5,"strokeDash":[3,4]},"encoding":{"x":{"field":"cx","type":"quantitative","scale":{"domain":[-1,1],"nice":false,"zero":false},"axis":null},"y":{"field":"cy","type":"quantitative","scale":{"domain":[-1,1],"nice":false,"zero":false},"axis":null},"size":{"field":"rho","type":"quantitative","scale":{"type":"pow","exponent":2,"domain":[0,1],"range":[0,1205604]},"legend":null}}},
{"data":{"values":[{}]},"mark":{"type":"rule","stroke":"#c4c4c4","strokeWidth":2.5,"strokeDash":[3,4]},"encoding":{"x":{"datum":-1,"type":"quantitative","scale":{"domain":[-1,1],"nice":false,"zero":false},"axis":null},"x2":{"datum":1},"y":{"datum":0,"type":"quantitative","scale":{"domain":[-1,1],"nice":false,"zero":false},"axis":null}}},
{"data":{"values":[{}]},"mark":{"type":"rule","stroke":"#a8a8a8","strokeWidth":2.5},"encoding":{"x":{"datum":0.85,"type":"quantitative","scale":{"domain":[-1,1],"nice":false,"zero":false},"axis":null},"x2":{"datum":1},"y":{"datum":0,"type":"quantitative","scale":{"domain":[-1,1],"nice":false,"zero":false},"axis":null}}},
{"data":{"name":"mask"},"mark":{"type":"arc","fill":"white","clip":true},"encoding":{"x":{"datum":0,"type":"quantitative","scale":{"domain":[-1,1],"nice":false,"zero":false},"axis":null},"y":{"datum":0,"type":"quantitative","scale":{"domain":[-1,1],"nice":false,"zero":false},"axis":null},"theta":{"field":"t0","type":"quantitative","scale":null,"stack":null},"theta2":{"field":"t1"},"radius":{"field":"ro","type":"quantitative","scale":{"type":"linear","domain":[0,1],"range":[0,549],"zero":true}},"radius2":{"field":"ri"}}},
{"data":{"name":"outer"},"mark":{"type":"point","shape":"circle","filled":false,"opacity":1,"stroke":"#9b9b9b","strokeWidth":3.5},"encoding":{"x":{"field":"cx","type":"quantitative","scale":{"domain":[-1,1],"nice":false,"zero":false},"axis":null},"y":{"field":"cy","type":"quantitative","scale":{"domain":[-1,1],"nice":false,"zero":false},"axis":null},"size":{"field":"rho","type":"quantitative","scale":{"type":"pow","exponent":2,"domain":[0,1],"range":[0,1205604]},"legend":null}}},
{"data":{"name":"curves"},"transform":[{"filter":"datum.p === 'c' && datum.k === 'm'"}],"mark":{"type":"line","stroke":"#00ff00","strokeWidth":3.5},"encoding":{"x":{"field":"gx","type":"quantitative","scale":{"domain":[-1,1],"nice":false,"zero":false},"axis":null},"y":{"field":"gy","type":"quantitative","scale":{"domain":[-1,1],"nice":false,"zero":false},"axis":null},"detail":{"field":"s"},"order":{"field":"i"}}},
{"data":{"name":"curves"},"transform":[{"filter":"datum.p === 'c' && datum.k === 's'"}],"mark":{"type":"line","stroke":"#000000","strokeWidth":3.5,"strokeDash":[10,6]},"encoding":{"x":{"field":"gx","type":"quantitative","scale":{"domain":[-1,1],"nice":false,"zero":false},"axis":null},"y":{"field":"gy","type":"quantitative","scale":{"domain":[-1,1],"nice":false,"zero":false},"axis":null},"detail":{"field":"s"},"order":{"field":"i"}}},
{"data":{"name":"labels"},"transform":[{"filter":"datum.p === 'c'"}],"mark":{"type":"text","align":"right","baseline":"alphabetic","font":"Liberation Sans","fontSize":98,"color":"#000000"},"encoding":{"x":{"field":"gx","type":"quantitative","scale":{"domain":[-1,1],"nice":false,"zero":false},"axis":null},"y":{"field":"gy","type":"quantitative","scale":{"domain":[-1,1],"nice":false,"zero":false},"axis":null},"text":{"field":"main"}}},
{"data":{"name":"labels"},"transform":[{"filter":"datum.p === 'c'"}],"mark":{"type":"text","align":"left","baseline":"alphabetic","font":"Liberation Sans","fontSize":76,"dx":4,"dy":46,"color":"#000000"},"encoding":{"x":{"field":"gx","type":"quantitative","scale":{"domain":[-1,1],"nice":false,"zero":false},"axis":null},"y":{"field":"gy","type":"quantitative","scale":{"domain":[-1,1],"nice":false,"zero":false},"axis":null},"text":{"field":"sub"}}}
]},
{"width":1098,"height":1098,"title":{"text":"(d)","orient":"bottom","anchor":"middle","font":"Liberation Serif","fontSize":84,"fontWeight":"bold","color":"#000000","offset":35,"baseline":"top"},
"layer":[
{"data":{"name":"grid"},"mark":{"type":"point","shape":"circle","filled":false,"clip":true,"opacity":1,"stroke":"#c4c4c4","strokeWidth":2.5,"strokeDash":[3,4]},"encoding":{"x":{"field":"cx","type":"quantitative","scale":{"domain":[-1,1],"nice":false,"zero":false},"axis":null},"y":{"field":"cy","type":"quantitative","scale":{"domain":[-1,1],"nice":false,"zero":false},"axis":null},"size":{"field":"rho","type":"quantitative","scale":{"type":"pow","exponent":2,"domain":[0,1],"range":[0,1205604]},"legend":null}}},
{"data":{"values":[{}]},"mark":{"type":"rule","stroke":"#c4c4c4","strokeWidth":2.5,"strokeDash":[3,4]},"encoding":{"x":{"datum":-1,"type":"quantitative","scale":{"domain":[-1,1],"nice":false,"zero":false},"axis":null},"x2":{"datum":1},"y":{"datum":0,"type":"quantitative","scale":{"domain":[-1,1],"nice":false,"zero":false},"axis":null}}},
{"data":{"values":[{}]},"mark":{"type":"rule","stroke":"#a8a8a8","strokeWidth":2.5},"encoding":{"x":{"datum":0.85,"type":"quantitative","scale":{"domain":[-1,1],"nice":false,"zero":false},"axis":null},"x2":{"datum":1},"y":{"datum":0,"type":"quantitative","scale":{"domain":[-1,1],"nice":false,"zero":false},"axis":null}}},
{"data":{"name":"mask"},"mark":{"type":"arc","fill":"white","clip":true},"encoding":{"x":{"datum":0,"type":"quantitative","scale":{"domain":[-1,1],"nice":false,"zero":false},"axis":null},"y":{"datum":0,"type":"quantitative","scale":{"domain":[-1,1],"nice":false,"zero":false},"axis":null},"theta":{"field":"t0","type":"quantitative","scale":null,"stack":null},"theta2":{"field":"t1"},"radius":{"field":"ro","type":"quantitative","scale":{"type":"linear","domain":[0,1],"range":[0,549],"zero":true}},"radius2":{"field":"ri"}}},
{"data":{"name":"outer"},"mark":{"type":"point","shape":"circle","filled":false,"opacity":1,"stroke":"#9b9b9b","strokeWidth":3.5},"encoding":{"x":{"field":"cx","type":"quantitative","scale":{"domain":[-1,1],"nice":false,"zero":false},"axis":null},"y":{"field":"cy","type":"quantitative","scale":{"domain":[-1,1],"nice":false,"zero":false},"axis":null},"size":{"field":"rho","type":"quantitative","scale":{"type":"pow","exponent":2,"domain":[0,1],"range":[0,1205604]},"legend":null}}},
{"data":{"name":"curves"},"transform":[{"filter":"datum.p === 'd' && datum.k === 'm'"}],"mark":{"type":"line","stroke":"#00ff00","strokeWidth":3.5},"encoding":{"x":{"field":"gx","type":"quantitative","scale":{"domain":[-1,1],"nice":false,"zero":false},"axis":null},"y":{"field":"gy","type":"quantitative","scale":{"domain":[-1,1],"nice":false,"zero":false},"axis":null},"detail":{"field":"s"},"order":{"field":"i"}}},
{"data":{"name":"curves"},"transform":[{"filter":"datum.p === 'd' && datum.k === 's'"}],"mark":{"type":"line","stroke":"#000000","strokeWidth":3.5,"strokeDash":[10,6]},"encoding":{"x":{"field":"gx","type":"quantitative","scale":{"domain":[-1,1],"nice":false,"zero":false},"axis":null},"y":{"field":"gy","type":"quantitative","scale":{"domain":[-1,1],"nice":false,"zero":false},"axis":null},"detail":{"field":"s"},"order":{"field":"i"}}},
{"data":{"name":"labels"},"transform":[{"filter":"datum.p === 'd'"}],"mark":{"type":"text","align":"right","baseline":"alphabetic","font":"Liberation Sans","fontSize":98,"color":"#000000"},"encoding":{"x":{"field":"gx","type":"quantitative","scale":{"domain":[-1,1],"nice":false,"zero":false},"axis":null},"y":{"field":"gy","type":"quantitative","scale":{"domain":[-1,1],"nice":false,"zero":false},"axis":null},"text":{"field":"main"}}},
{"data":{"name":"labels"},"transform":[{"filter":"datum.p === 'd'"}],"mark":{"type":"text","align":"left","baseline":"alphabetic","font":"Liberation Sans","fontSize":76,"dx":4,"dy":46,"color":"#000000"},"encoding":{"x":{"field":"gx","type":"quantitative","scale":{"domain":[-1,1],"nice":false,"zero":false},"axis":null},"y":{"field":"gy","type":"quantitative","scale":{"domain":[-1,1],"nice":false,"zero":false},"axis":null},"text":{"field":"sub"}}}
]},
{"width":1098,"height":1098,"title":{"text":"(e)","orient":"bottom","anchor":"middle","font":"Liberation Serif","fontSize":84,"fontWeight":"bold","color":"#000000","offset":35,"baseline":"top"},
"layer":[
{"data":{"name":"grid"},"mark":{"type":"point","shape":"circle","filled":false,"clip":true,"opacity":1,"stroke":"#c4c4c4","strokeWidth":2.5,"strokeDash":[3,4]},"encoding":{"x":{"field":"cx","type":"quantitative","scale":{"domain":[-1,1],"nice":false,"zero":false},"axis":null},"y":{"field":"cy","type":"quantitative","scale":{"domain":[-1,1],"nice":false,"zero":false},"axis":null},"size":{"field":"rho","type":"quantitative","scale":{"type":"pow","exponent":2,"domain":[0,1],"range":[0,1205604]},"legend":null}}},
{"data":{"values":[{}]},"mark":{"type":"rule","stroke":"#c4c4c4","strokeWidth":2.5,"strokeDash":[3,4]},"encoding":{"x":{"datum":-1,"type":"quantitative","scale":{"domain":[-1,1],"nice":false,"zero":false},"axis":null},"x2":{"datum":1},"y":{"datum":0,"type":"quantitative","scale":{"domain":[-1,1],"nice":false,"zero":false},"axis":null}}},
{"data":{"values":[{}]},"mark":{"type":"rule","stroke":"#a8a8a8","strokeWidth":2.5},"encoding":{"x":{"datum":0.85,"type":"quantitative","scale":{"domain":[-1,1],"nice":false,"zero":false},"axis":null},"x2":{"datum":1},"y":{"datum":0,"type":"quantitative","scale":{"domain":[-1,1],"nice":false,"zero":false},"axis":null}}},
{"data":{"name":"mask"},"mark":{"type":"arc","fill":"white","clip":true},"encoding":{"x":{"datum":0,"type":"quantitative","scale":{"domain":[-1,1],"nice":false,"zero":false},"axis":null},"y":{"datum":0,"type":"quantitative","scale":{"domain":[-1,1],"nice":false,"zero":false},"axis":null},"theta":{"field":"t0","type":"quantitative","scale":null,"stack":null},"theta2":{"field":"t1"},"radius":{"field":"ro","type":"quantitative","scale":{"type":"linear","domain":[0,1],"range":[0,549],"zero":true}},"radius2":{"field":"ri"}}},
{"data":{"name":"outer"},"mark":{"type":"point","shape":"circle","filled":false,"opacity":1,"stroke":"#9b9b9b","strokeWidth":3.5},"encoding":{"x":{"field":"cx","type":"quantitative","scale":{"domain":[-1,1],"nice":false,"zero":false},"axis":null},"y":{"field":"cy","type":"quantitative","scale":{"domain":[-1,1],"nice":false,"zero":false},"axis":null},"size":{"field":"rho","type":"quantitative","scale":{"type":"pow","exponent":2,"domain":[0,1],"range":[0,1205604]},"legend":null}}},
{"data":{"name":"curves"},"transform":[{"filter":"datum.p === 'e' && datum.k === 'm'"}],"mark":{"type":"line","stroke":"#ff0000","strokeWidth":3.5},"encoding":{"x":{"field":"gx","type":"quantitative","scale":{"domain":[-1,1],"nice":false,"zero":false},"axis":null},"y":{"field":"gy","type":"quantitative","scale":{"domain":[-1,1],"nice":false,"zero":false},"axis":null},"detail":{"field":"s"},"order":{"field":"i"}}},
{"data":{"name":"curves"},"transform":[{"filter":"datum.p === 'e' && datum.k === 's'"}],"mark":{"type":"line","stroke":"#000000","strokeWidth":3.5,"strokeDash":[10,6]},"encoding":{"x":{"field":"gx","type":"quantitative","scale":{"domain":[-1,1],"nice":false,"zero":false},"axis":null},"y":{"field":"gy","type":"quantitative","scale":{"domain":[-1,1],"nice":false,"zero":false},"axis":null},"detail":{"field":"s"},"order":{"field":"i"}}},
{"data":{"name":"labels"},"transform":[{"filter":"datum.p === 'e'"}],"mark":{"type":"text","align":"right","baseline":"alphabetic","font":"Liberation Sans","fontSize":98,"color":"#000000"},"encoding":{"x":{"field":"gx","type":"quantitative","scale":{"domain":[-1,1],"nice":false,"zero":false},"axis":null},"y":{"field":"gy","type":"quantitative","scale":{"domain":[-1,1],"nice":false,"zero":false},"axis":null},"text":{"field":"main"}}},
{"data":{"name":"labels"},"transform":[{"filter":"datum.p === 'e'"}],"mark":{"type":"text","align":"left","baseline":"alphabetic","font":"Liberation Sans","fontSize":76,"dx":4,"dy":46,"color":"#000000"},"encoding":{"x":{"field":"gx","type":"quantitative","scale":{"domain":[-1,1],"nice":false,"zero":false},"axis":null},"y":{"field":"gy","type":"quantitative","scale":{"domain":[-1,1],"nice":false,"zero":false},"axis":null},"text":{"field":"sub"}}}
]},
{"width":1098,"height":1098,"title":{"text":"(f)","orient":"bottom","anchor":"middle","font":"Liberation Serif","fontSize":84,"fontWeight":"bold","color":"#000000","offset":35,"baseline":"top"},
"layer":[
{"data":{"name":"grid"},"mark":{"type":"point","shape":"circle","filled":false,"clip":true,"opacity":1,"stroke":"#c4c4c4","strokeWidth":2.5,"strokeDash":[3,4]},"encoding":{"x":{"field":"cx","type":"quantitative","scale":{"domain":[-1,1],"nice":false,"zero":false},"axis":null},"y":{"field":"cy","type":"quantitative","scale":{"domain":[-1,1],"nice":false,"zero":false},"axis":null},"size":{"field":"rho","type":"quantitative","scale":{"type":"pow","exponent":2,"domain":[0,1],"range":[0,1205604]},"legend":null}}},
{"data":{"values":[{}]},"mark":{"type":"rule","stroke":"#c4c4c4","strokeWidth":2.5,"strokeDash":[3,4]},"encoding":{"x":{"datum":-1,"type":"quantitative","scale":{"domain":[-1,1],"nice":false,"zero":false},"axis":null},"x2":{"datum":1},"y":{"datum":0,"type":"quantitative","scale":{"domain":[-1,1],"nice":false,"zero":false},"axis":null}}},
{"data":{"values":[{}]},"mark":{"type":"rule","stroke":"#a8a8a8","strokeWidth":2.5},"encoding":{"x":{"datum":0.85,"type":"quantitative","scale":{"domain":[-1,1],"nice":false,"zero":false},"axis":null},"x2":{"datum":1},"y":{"datum":0,"type":"quantitative","scale":{"domain":[-1,1],"nice":false,"zero":false},"axis":null}}},
{"data":{"name":"mask"},"mark":{"type":"arc","fill":"white","clip":true},"encoding":{"x":{"datum":0,"type":"quantitative","scale":{"domain":[-1,1],"nice":false,"zero":false},"axis":null},"y":{"datum":0,"type":"quantitative","scale":{"domain":[-1,1],"nice":false,"zero":false},"axis":null},"theta":{"field":"t0","type":"quantitative","scale":null,"stack":null},"theta2":{"field":"t1"},"radius":{"field":"ro","type":"quantitative","scale":{"type":"linear","domain":[0,1],"range":[0,549],"zero":true}},"radius2":{"field":"ri"}}},
{"data":{"name":"outer"},"mark":{"type":"point","shape":"circle","filled":false,"opacity":1,"stroke":"#9b9b9b","strokeWidth":3.5},"encoding":{"x":{"field":"cx","type":"quantitative","scale":{"domain":[-1,1],"nice":false,"zero":false},"axis":null},"y":{"field":"cy","type":"quantitative","scale":{"domain":[-1,1],"nice":false,"zero":false},"axis":null},"size":{"field":"rho","type":"quantitative","scale":{"type":"pow","exponent":2,"domain":[0,1],"range":[0,1205604]},"legend":null}}},
{"data":{"name":"curves"},"transform":[{"filter":"datum.p === 'f' && datum.k === 'm'"}],"mark":{"type":"line","stroke":"#ff0000","strokeWidth":3.5},"encoding":{"x":{"field":"gx","type":"quantitative","scale":{"domain":[-1,1],"nice":false,"zero":false},"axis":null},"y":{"field":"gy","type":"quantitative","scale":{"domain":[-1,1],"nice":false,"zero":false},"axis":null},"detail":{"field":"s"},"order":{"field":"i"}}},
{"data":{"name":"curves"},"transform":[{"filter":"datum.p === 'f' && datum.k === 's'"}],"mark":{"type":"line","stroke":"#000000","strokeWidth":3.5,"strokeDash":[10,6]},"encoding":{"x":{"field":"gx","type":"quantitative","scale":{"domain":[-1,1],"nice":false,"zero":false},"axis":null},"y":{"field":"gy","type":"quantitative","scale":{"domain":[-1,1],"nice":false,"zero":false},"axis":null},"detail":{"field":"s"},"order":{"field":"i"}}},
{"data":{"name":"labels"},"transform":[{"filter":"datum.p === 'f'"}],"mark":{"type":"text","align":"right","baseline":"alphabetic","font":"Liberation Sans","fontSize":98,"color":"#000000"},"encoding":{"x":{"field":"gx","type":"quantitative","scale":{"domain":[-1,1],"nice":false,"zero":false},"axis":null},"y":{"field":"gy","type":"quantitative","scale":{"domain":[-1,1],"nice":false,"zero":false},"axis":null},"text":{"field":"main"}}},
{"data":{"name":"labels"},"transform":[{"filter":"datum.p === 'f'"}],"mark":{"type":"text","align":"left","baseline":"alphabetic","font":"Liberation Sans","fontSize":76,"dx":4,"dy":46,"color":"#000000"},"encoding":{"x":{"field":"gx","type":"quantitative","scale":{"domain":[-1,1],"nice":false,"zero":false},"axis":null},"y":{"field":"gy","type":"quantitative","scale":{"domain":[-1,1],"nice":false,"zero":false},"axis":null},"text":{"field":"sub"}}}
]}
]
}
